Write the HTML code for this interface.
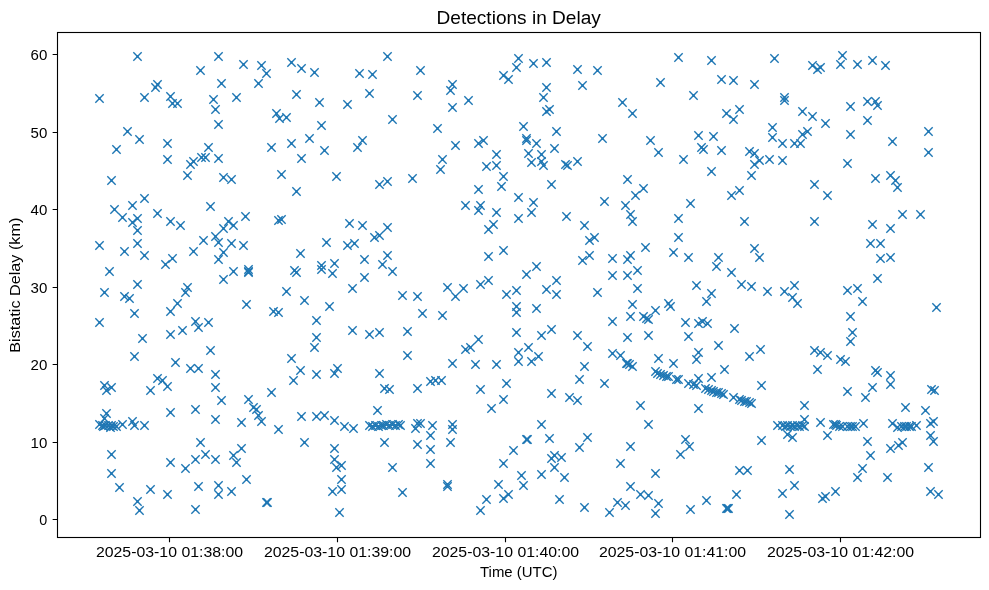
<!DOCTYPE html>
<html><head><meta charset="utf-8"><style>
html,body{margin:0;padding:0;background:#fff;width:989px;height:590px;overflow:hidden}
svg{display:block;will-change:transform}
text{font-family:"Liberation Sans", sans-serif;fill:#000}
</style></head><body>
<svg width="989" height="590" viewBox="0 0 989 590">
<rect width="989" height="590" fill="#fff"/>
<defs><g id="m"><path d="M-4.17 -4.17L4.17 4.17M-4.17 4.17L4.17 -4.17"/><path d="M0 -1.45L1.45 0L0 1.45L-1.45 0Z" fill="#1f77b4" stroke="none"/></g></defs>
<g fill="none" stroke="#1f77b4" stroke-width="1.39"><use href="#m" x="137.5" y="56.5"/><use href="#m" x="218.5" y="56.5"/><use href="#m" x="243.5" y="64.5"/><use href="#m" x="200.5" y="70.5"/><use href="#m" x="157.5" y="84.5"/><use href="#m" x="155.5" y="87.5"/><use href="#m" x="221.5" y="83.5"/><use href="#m" x="99.5" y="98.5"/><use href="#m" x="144.5" y="97.5"/><use href="#m" x="170.5" y="96.5"/><use href="#m" x="172.5" y="103.5"/><use href="#m" x="177.5" y="103.5"/><use href="#m" x="213.5" y="99.5"/><use href="#m" x="236.5" y="97.5"/><use href="#m" x="215.5" y="109.5"/><use href="#m" x="218.5" y="124.5"/><use href="#m" x="127.5" y="131.5"/><use href="#m" x="139.5" y="139.5"/><use href="#m" x="261.5" y="65.5"/><use href="#m" x="266.5" y="73.5"/><use href="#m" x="258.5" y="83.5"/><use href="#m" x="291.5" y="62.5"/><use href="#m" x="301.5" y="68.5"/><use href="#m" x="314.5" y="72.5"/><use href="#m" x="387.5" y="56.5"/><use href="#m" x="359.5" y="73.5"/><use href="#m" x="372.5" y="74.5"/><use href="#m" x="296.5" y="94.5"/><use href="#m" x="369.5" y="93.5"/><use href="#m" x="319.5" y="102.5"/><use href="#m" x="347.5" y="104.5"/><use href="#m" x="276.5" y="113.5"/><use href="#m" x="279.5" y="118.5"/><use href="#m" x="286.5" y="117.5"/><use href="#m" x="392.5" y="119.5"/><use href="#m" x="321.5" y="125.5"/><use href="#m" x="309.5" y="138.5"/><use href="#m" x="362.5" y="140.5"/><use href="#m" x="420.5" y="70.5"/><use href="#m" x="417.5" y="95.5"/><use href="#m" x="452.5" y="84.5"/><use href="#m" x="450.5" y="90.5"/><use href="#m" x="468.5" y="100.5"/><use href="#m" x="452.5" y="107.5"/><use href="#m" x="437.5" y="128.5"/><use href="#m" x="518.5" y="58.5"/><use href="#m" x="516.5" y="67.5"/><use href="#m" x="533.5" y="63.5"/><use href="#m" x="546.5" y="62.5"/><use href="#m" x="503.5" y="75.5"/><use href="#m" x="508.5" y="79.5"/><use href="#m" x="546.5" y="87.5"/><use href="#m" x="543.5" y="97.5"/><use href="#m" x="546.5" y="111.5"/><use href="#m" x="549.5" y="109.5"/><use href="#m" x="523.5" y="126.5"/><use href="#m" x="556.5" y="131.5"/><use href="#m" x="483.5" y="140.5"/><use href="#m" x="526.5" y="138.5"/><use href="#m" x="577.5" y="69.5"/><use href="#m" x="597.5" y="70.5"/><use href="#m" x="582.5" y="85.5"/><use href="#m" x="622.5" y="102.5"/><use href="#m" x="632.5" y="113.5"/><use href="#m" x="660.5" y="82.5"/><use href="#m" x="678.5" y="57.5"/><use href="#m" x="711.5" y="60.5"/><use href="#m" x="721.5" y="79.5"/><use href="#m" x="693.5" y="95.5"/><use href="#m" x="726.5" y="113.5"/><use href="#m" x="698.5" y="135.5"/><use href="#m" x="713.5" y="136.5"/><use href="#m" x="602.5" y="138.5"/><use href="#m" x="650.5" y="140.5"/><use href="#m" x="733.5" y="80.5"/><use href="#m" x="754.5" y="84.5"/><use href="#m" x="774.5" y="58.5"/><use href="#m" x="784.5" y="97.5"/><use href="#m" x="784.5" y="100.5"/><use href="#m" x="739.5" y="109.5"/><use href="#m" x="733.5" y="119.5"/><use href="#m" x="772.5" y="127.5"/><use href="#m" x="772.5" y="137.5"/><use href="#m" x="802.5" y="111.5"/><use href="#m" x="812.5" y="116.5"/><use href="#m" x="825.5" y="123.5"/><use href="#m" x="807.5" y="131.5"/><use href="#m" x="802.5" y="134.5"/><use href="#m" x="812.5" y="65.5"/><use href="#m" x="817.5" y="69.5"/><use href="#m" x="820.5" y="67.5"/><use href="#m" x="842.5" y="55.5"/><use href="#m" x="840.5" y="64.5"/><use href="#m" x="857.5" y="64.5"/><use href="#m" x="872.5" y="60.5"/><use href="#m" x="885.5" y="65.5"/><use href="#m" x="850.5" y="106.5"/><use href="#m" x="867.5" y="101.5"/><use href="#m" x="875.5" y="101.5"/><use href="#m" x="877.5" y="105.5"/><use href="#m" x="867.5" y="120.5"/><use href="#m" x="850.5" y="134.5"/><use href="#m" x="928.5" y="131.5"/><use href="#m" x="167.5" y="143.5"/><use href="#m" x="116.5" y="149.5"/><use href="#m" x="208.5" y="147.5"/><use href="#m" x="167.5" y="159.5"/><use href="#m" x="187.5" y="175.5"/><use href="#m" x="190.5" y="164.5"/><use href="#m" x="193.5" y="161.5"/><use href="#m" x="201.5" y="157.5"/><use href="#m" x="205.5" y="157.5"/><use href="#m" x="218.5" y="158.5"/><use href="#m" x="111.5" y="180.5"/><use href="#m" x="223.5" y="177.5"/><use href="#m" x="231.5" y="179.5"/><use href="#m" x="144.5" y="198.5"/><use href="#m" x="132.5" y="205.5"/><use href="#m" x="114.5" y="209.5"/><use href="#m" x="122.5" y="217.5"/><use href="#m" x="132.5" y="222.5"/><use href="#m" x="137.5" y="218.5"/><use href="#m" x="137.5" y="230.5"/><use href="#m" x="157.5" y="213.5"/><use href="#m" x="170.5" y="221.5"/><use href="#m" x="180.5" y="225.5"/><use href="#m" x="210.5" y="206.5"/><use href="#m" x="228.5" y="221.5"/><use href="#m" x="233.5" y="225.5"/><use href="#m" x="223.5" y="228.5"/><use href="#m" x="245.5" y="216.5"/><use href="#m" x="291.5" y="143.5"/><use href="#m" x="271.5" y="147.5"/><use href="#m" x="324.5" y="150.5"/><use href="#m" x="357.5" y="147.5"/><use href="#m" x="301.5" y="158.5"/><use href="#m" x="281.5" y="174.5"/><use href="#m" x="336.5" y="176.5"/><use href="#m" x="296.5" y="191.5"/><use href="#m" x="379.5" y="184.5"/><use href="#m" x="387.5" y="181.5"/><use href="#m" x="278.5" y="220.5"/><use href="#m" x="281.5" y="219.5"/><use href="#m" x="349.5" y="223.5"/><use href="#m" x="362.5" y="225.5"/><use href="#m" x="387.5" y="227.5"/><use href="#m" x="379.5" y="235.5"/><use href="#m" x="455.5" y="145.5"/><use href="#m" x="478.5" y="143.5"/><use href="#m" x="496.5" y="154.5"/><use href="#m" x="442.5" y="159.5"/><use href="#m" x="440.5" y="169.5"/><use href="#m" x="412.5" y="178.5"/><use href="#m" x="486.5" y="166.5"/><use href="#m" x="496.5" y="165.5"/><use href="#m" x="503.5" y="176.5"/><use href="#m" x="501.5" y="186.5"/><use href="#m" x="478.5" y="189.5"/><use href="#m" x="465.5" y="205.5"/><use href="#m" x="480.5" y="205.5"/><use href="#m" x="478.5" y="210.5"/><use href="#m" x="496.5" y="212.5"/><use href="#m" x="493.5" y="224.5"/><use href="#m" x="488.5" y="229.5"/><use href="#m" x="518.5" y="197.5"/><use href="#m" x="533.5" y="202.5"/><use href="#m" x="531.5" y="212.5"/><use href="#m" x="518.5" y="218.5"/><use href="#m" x="551.5" y="184.5"/><use href="#m" x="566.5" y="216.5"/><use href="#m" x="526.5" y="140.5"/><use href="#m" x="536.5" y="143.5"/><use href="#m" x="554.5" y="148.5"/><use href="#m" x="528.5" y="153.5"/><use href="#m" x="541.5" y="154.5"/><use href="#m" x="541.5" y="161.5"/><use href="#m" x="531.5" y="162.5"/><use href="#m" x="543.5" y="165.5"/><use href="#m" x="565.5" y="164.5"/><use href="#m" x="567.5" y="165.5"/><use href="#m" x="577.5" y="161.5"/><use href="#m" x="658.5" y="152.5"/><use href="#m" x="683.5" y="159.5"/><use href="#m" x="701.5" y="147.5"/><use href="#m" x="703.5" y="149.5"/><use href="#m" x="721.5" y="150.5"/><use href="#m" x="711.5" y="171.5"/><use href="#m" x="627.5" y="179.5"/><use href="#m" x="643.5" y="188.5"/><use href="#m" x="635.5" y="195.5"/><use href="#m" x="604.5" y="201.5"/><use href="#m" x="625.5" y="205.5"/><use href="#m" x="630.5" y="214.5"/><use href="#m" x="632.5" y="221.5"/><use href="#m" x="690.5" y="203.5"/><use href="#m" x="678.5" y="218.5"/><use href="#m" x="584.5" y="225.5"/><use href="#m" x="782.5" y="143.5"/><use href="#m" x="794.5" y="143.5"/><use href="#m" x="800.5" y="143.5"/><use href="#m" x="749.5" y="151.5"/><use href="#m" x="754.5" y="153.5"/><use href="#m" x="759.5" y="160.5"/><use href="#m" x="754.5" y="164.5"/><use href="#m" x="769.5" y="159.5"/><use href="#m" x="782.5" y="160.5"/><use href="#m" x="751.5" y="175.5"/><use href="#m" x="739.5" y="190.5"/><use href="#m" x="731.5" y="195.5"/><use href="#m" x="814.5" y="184.5"/><use href="#m" x="827.5" y="195.5"/><use href="#m" x="847.5" y="163.5"/><use href="#m" x="875.5" y="178.5"/><use href="#m" x="744.5" y="221.5"/><use href="#m" x="814.5" y="221.5"/><use href="#m" x="872.5" y="224.5"/><use href="#m" x="892.5" y="141.5"/><use href="#m" x="928.5" y="152.5"/><use href="#m" x="890.5" y="175.5"/><use href="#m" x="895.5" y="180.5"/><use href="#m" x="897.5" y="187.5"/><use href="#m" x="902.5" y="214.5"/><use href="#m" x="920.5" y="214.5"/><use href="#m" x="890.5" y="228.5"/><use href="#m" x="99.5" y="245.5"/><use href="#m" x="124.5" y="251.5"/><use href="#m" x="137.5" y="243.5"/><use href="#m" x="144.5" y="255.5"/><use href="#m" x="203.5" y="240.5"/><use href="#m" x="193.5" y="251.5"/><use href="#m" x="172.5" y="258.5"/><use href="#m" x="165.5" y="264.5"/><use href="#m" x="218.5" y="242.5"/><use href="#m" x="231.5" y="243.5"/><use href="#m" x="243.5" y="245.5"/><use href="#m" x="223.5" y="252.5"/><use href="#m" x="218.5" y="259.5"/><use href="#m" x="109.5" y="271.5"/><use href="#m" x="233.5" y="271.5"/><use href="#m" x="223.5" y="279.5"/><use href="#m" x="137.5" y="284.5"/><use href="#m" x="104.5" y="292.5"/><use href="#m" x="124.5" y="296.5"/><use href="#m" x="129.5" y="298.5"/><use href="#m" x="187.5" y="287.5"/><use href="#m" x="185.5" y="292.5"/><use href="#m" x="177.5" y="303.5"/><use href="#m" x="170.5" y="311.5"/><use href="#m" x="134.5" y="313.5"/><use href="#m" x="99.5" y="322.5"/><use href="#m" x="195.5" y="321.5"/><use href="#m" x="198.5" y="327.5"/><use href="#m" x="208.5" y="322.5"/><use href="#m" x="182.5" y="330.5"/><use href="#m" x="246.5" y="304.5"/><use href="#m" x="215.5" y="236.5"/><use href="#m" x="326.5" y="242.5"/><use href="#m" x="347.5" y="245.5"/><use href="#m" x="354.5" y="243.5"/><use href="#m" x="374.5" y="237.5"/><use href="#m" x="300.5" y="253.5"/><use href="#m" x="294.5" y="270.5"/><use href="#m" x="296.5" y="272.5"/><use href="#m" x="321.5" y="265.5"/><use href="#m" x="321.5" y="269.5"/><use href="#m" x="334.5" y="263.5"/><use href="#m" x="332.5" y="273.5"/><use href="#m" x="364.5" y="259.5"/><use href="#m" x="387.5" y="255.5"/><use href="#m" x="382.5" y="264.5"/><use href="#m" x="392.5" y="271.5"/><use href="#m" x="364.5" y="277.5"/><use href="#m" x="352.5" y="288.5"/><use href="#m" x="286.5" y="291.5"/><use href="#m" x="304.5" y="300.5"/><use href="#m" x="329.5" y="306.5"/><use href="#m" x="402.5" y="295.5"/><use href="#m" x="273.5" y="311.5"/><use href="#m" x="278.5" y="312.5"/><use href="#m" x="316.5" y="320.5"/><use href="#m" x="352.5" y="330.5"/><use href="#m" x="379.5" y="332.5"/><use href="#m" x="248.5" y="269.5"/><use href="#m" x="248.5" y="271.5"/><use href="#m" x="248.5" y="272.5"/><use href="#m" x="488.5" y="256.5"/><use href="#m" x="503.5" y="250.5"/><use href="#m" x="536.5" y="266.5"/><use href="#m" x="526.5" y="274.5"/><use href="#m" x="556.5" y="280.5"/><use href="#m" x="546.5" y="289.5"/><use href="#m" x="556.5" y="294.5"/><use href="#m" x="488.5" y="280.5"/><use href="#m" x="480.5" y="284.5"/><use href="#m" x="447.5" y="287.5"/><use href="#m" x="455.5" y="296.5"/><use href="#m" x="463.5" y="288.5"/><use href="#m" x="417.5" y="296.5"/><use href="#m" x="422.5" y="313.5"/><use href="#m" x="442.5" y="315.5"/><use href="#m" x="506.5" y="294.5"/><use href="#m" x="516.5" y="290.5"/><use href="#m" x="516.5" y="306.5"/><use href="#m" x="516.5" y="312.5"/><use href="#m" x="536.5" y="308.5"/><use href="#m" x="551.5" y="329.5"/><use href="#m" x="407.5" y="331.5"/><use href="#m" x="594.5" y="237.5"/><use href="#m" x="678.5" y="237.5"/><use href="#m" x="645.5" y="247.5"/><use href="#m" x="673.5" y="252.5"/><use href="#m" x="688.5" y="257.5"/><use href="#m" x="718.5" y="257.5"/><use href="#m" x="716.5" y="266.5"/><use href="#m" x="582.5" y="260.5"/><use href="#m" x="589.5" y="255.5"/><use href="#m" x="589.5" y="240.5"/><use href="#m" x="612.5" y="258.5"/><use href="#m" x="630.5" y="255.5"/><use href="#m" x="627.5" y="259.5"/><use href="#m" x="612.5" y="275.5"/><use href="#m" x="627.5" y="275.5"/><use href="#m" x="637.5" y="270.5"/><use href="#m" x="597.5" y="292.5"/><use href="#m" x="637.5" y="288.5"/><use href="#m" x="696.5" y="285.5"/><use href="#m" x="711.5" y="293.5"/><use href="#m" x="706.5" y="301.5"/><use href="#m" x="632.5" y="304.5"/><use href="#m" x="655.5" y="310.5"/><use href="#m" x="668.5" y="303.5"/><use href="#m" x="670.5" y="306.5"/><use href="#m" x="630.5" y="316.5"/><use href="#m" x="643.5" y="316.5"/><use href="#m" x="646.5" y="318.5"/><use href="#m" x="648.5" y="319.5"/><use href="#m" x="685.5" y="322.5"/><use href="#m" x="698.5" y="323.5"/><use href="#m" x="702.5" y="321.5"/><use href="#m" x="707.5" y="323.5"/><use href="#m" x="612.5" y="321.5"/><use href="#m" x="754.5" y="248.5"/><use href="#m" x="759.5" y="257.5"/><use href="#m" x="731.5" y="272.5"/><use href="#m" x="741.5" y="284.5"/><use href="#m" x="751.5" y="286.5"/><use href="#m" x="767.5" y="291.5"/><use href="#m" x="784.5" y="291.5"/><use href="#m" x="794.5" y="285.5"/><use href="#m" x="792.5" y="297.5"/><use href="#m" x="797.5" y="303.5"/><use href="#m" x="847.5" y="290.5"/><use href="#m" x="857.5" y="288.5"/><use href="#m" x="862.5" y="301.5"/><use href="#m" x="850.5" y="316.5"/><use href="#m" x="734.5" y="328.5"/><use href="#m" x="870.5" y="243.5"/><use href="#m" x="880.5" y="243.5"/><use href="#m" x="880.5" y="258.5"/><use href="#m" x="877.5" y="278.5"/><use href="#m" x="890.5" y="257.5"/><use href="#m" x="936.5" y="307.5"/><use href="#m" x="170.5" y="334.5"/><use href="#m" x="142.5" y="338.5"/><use href="#m" x="134.5" y="356.5"/><use href="#m" x="210.5" y="350.5"/><use href="#m" x="175.5" y="362.5"/><use href="#m" x="190.5" y="368.5"/><use href="#m" x="198.5" y="368.5"/><use href="#m" x="215.5" y="374.5"/><use href="#m" x="215.5" y="387.5"/><use href="#m" x="221.5" y="400.5"/><use href="#m" x="157.5" y="378.5"/><use href="#m" x="162.5" y="380.5"/><use href="#m" x="167.5" y="386.5"/><use href="#m" x="150.5" y="390.5"/><use href="#m" x="104.5" y="385.5"/><use href="#m" x="111.5" y="387.5"/><use href="#m" x="106.5" y="390.5"/><use href="#m" x="170.5" y="412.5"/><use href="#m" x="195.5" y="409.5"/><use href="#m" x="215.5" y="419.5"/><use href="#m" x="241.5" y="422.5"/><use href="#m" x="122.5" y="424.5"/><use href="#m" x="132.5" y="421.5"/><use href="#m" x="134.5" y="425.5"/><use href="#m" x="144.5" y="425.5"/><use href="#m" x="106.5" y="413.5"/><use href="#m" x="104.5" y="418.5"/><use href="#m" x="99.5" y="424.5"/><use href="#m" x="102.5" y="425.5"/><use href="#m" x="105.5" y="425.5"/><use href="#m" x="108.5" y="425.5"/><use href="#m" x="111.5" y="425.5"/><use href="#m" x="113.5" y="426.5"/><use href="#m" x="116.5" y="426.5"/><use href="#m" x="316.5" y="337.5"/><use href="#m" x="369.5" y="334.5"/><use href="#m" x="314.5" y="347.5"/><use href="#m" x="291.5" y="358.5"/><use href="#m" x="300.5" y="370.5"/><use href="#m" x="293.5" y="380.5"/><use href="#m" x="316.5" y="374.5"/><use href="#m" x="334.5" y="373.5"/><use href="#m" x="337.5" y="368.5"/><use href="#m" x="379.5" y="373.5"/><use href="#m" x="384.5" y="388.5"/><use href="#m" x="389.5" y="389.5"/><use href="#m" x="271.5" y="392.5"/><use href="#m" x="377.5" y="410.5"/><use href="#m" x="248.5" y="399.5"/><use href="#m" x="253.5" y="407.5"/><use href="#m" x="256.5" y="409.5"/><use href="#m" x="258.5" y="415.5"/><use href="#m" x="261.5" y="421.5"/><use href="#m" x="278.5" y="429.5"/><use href="#m" x="301.5" y="416.5"/><use href="#m" x="316.5" y="416.5"/><use href="#m" x="324.5" y="415.5"/><use href="#m" x="334.5" y="420.5"/><use href="#m" x="344.5" y="426.5"/><use href="#m" x="353.5" y="428.5"/><use href="#m" x="369.5" y="425.5"/><use href="#m" x="372.5" y="426.5"/><use href="#m" x="375.5" y="425.5"/><use href="#m" x="378.5" y="426.5"/><use href="#m" x="381.5" y="425.5"/><use href="#m" x="383.5" y="425.5"/><use href="#m" x="386.5" y="424.5"/><use href="#m" x="389.5" y="425.5"/><use href="#m" x="392.5" y="424.5"/><use href="#m" x="395.5" y="425.5"/><use href="#m" x="398.5" y="424.5"/><use href="#m" x="400.5" y="425.5"/><use href="#m" x="478.5" y="339.5"/><use href="#m" x="465.5" y="349.5"/><use href="#m" x="470.5" y="347.5"/><use href="#m" x="452.5" y="363.5"/><use href="#m" x="475.5" y="364.5"/><use href="#m" x="496.5" y="364.5"/><use href="#m" x="430.5" y="381.5"/><use href="#m" x="435.5" y="380.5"/><use href="#m" x="441.5" y="380.5"/><use href="#m" x="417.5" y="388.5"/><use href="#m" x="480.5" y="389.5"/><use href="#m" x="506.5" y="383.5"/><use href="#m" x="503.5" y="399.5"/><use href="#m" x="491.5" y="408.5"/><use href="#m" x="551.5" y="393.5"/><use href="#m" x="541.5" y="424.5"/><use href="#m" x="516.5" y="332.5"/><use href="#m" x="541.5" y="335.5"/><use href="#m" x="518.5" y="352.5"/><use href="#m" x="518.5" y="361.5"/><use href="#m" x="528.5" y="347.5"/><use href="#m" x="531.5" y="361.5"/><use href="#m" x="538.5" y="356.5"/><use href="#m" x="407.5" y="355.5"/><use href="#m" x="417.5" y="423.5"/><use href="#m" x="420.5" y="423.5"/><use href="#m" x="415.5" y="428.5"/><use href="#m" x="432.5" y="425.5"/><use href="#m" x="452.5" y="424.5"/><use href="#m" x="452.5" y="429.5"/><use href="#m" x="577.5" y="335.5"/><use href="#m" x="627.5" y="337.5"/><use href="#m" x="648.5" y="335.5"/><use href="#m" x="688.5" y="336.5"/><use href="#m" x="587.5" y="346.5"/><use href="#m" x="584.5" y="366.5"/><use href="#m" x="579.5" y="379.5"/><use href="#m" x="604.5" y="383.5"/><use href="#m" x="577.5" y="400.5"/><use href="#m" x="640.5" y="405.5"/><use href="#m" x="648.5" y="424.5"/><use href="#m" x="658.5" y="358.5"/><use href="#m" x="673.5" y="363.5"/><use href="#m" x="698.5" y="352.5"/><use href="#m" x="696.5" y="359.5"/><use href="#m" x="718.5" y="345.5"/><use href="#m" x="698.5" y="408.5"/><use href="#m" x="569.5" y="397.5"/><use href="#m" x="612.5" y="353.5"/><use href="#m" x="620.5" y="355.5"/><use href="#m" x="626.5" y="363.5"/><use href="#m" x="627.5" y="363.5"/><use href="#m" x="629.5" y="364.5"/><use href="#m" x="632.5" y="366.5"/><use href="#m" x="655.5" y="371.5"/><use href="#m" x="657.5" y="373.5"/><use href="#m" x="660.5" y="374.5"/><use href="#m" x="663.5" y="375.5"/><use href="#m" x="666.5" y="376.5"/><use href="#m" x="668.5" y="376.5"/><use href="#m" x="676.5" y="379.5"/><use href="#m" x="678.5" y="379.5"/><use href="#m" x="688.5" y="383.5"/><use href="#m" x="693.5" y="384.5"/><use href="#m" x="696.5" y="385.5"/><use href="#m" x="733.5" y="397.5"/><use href="#m" x="698.5" y="378.5"/><use href="#m" x="711.5" y="377.5"/><use href="#m" x="724.5" y="369.5"/><use href="#m" x="705.5" y="388.5"/><use href="#m" x="708.5" y="389.5"/><use href="#m" x="711.5" y="390.5"/><use href="#m" x="713.5" y="391.5"/><use href="#m" x="716.5" y="392.5"/><use href="#m" x="718.5" y="392.5"/><use href="#m" x="721.5" y="393.5"/><use href="#m" x="723.5" y="394.5"/><use href="#m" x="739.5" y="399.5"/><use href="#m" x="741.5" y="400.5"/><use href="#m" x="744.5" y="401.5"/><use href="#m" x="746.5" y="401.5"/><use href="#m" x="749.5" y="402.5"/><use href="#m" x="751.5" y="403.5"/><use href="#m" x="850.5" y="341.5"/><use href="#m" x="760.5" y="349.5"/><use href="#m" x="749.5" y="356.5"/><use href="#m" x="814.5" y="350.5"/><use href="#m" x="820.5" y="352.5"/><use href="#m" x="827.5" y="355.5"/><use href="#m" x="840.5" y="359.5"/><use href="#m" x="845.5" y="361.5"/><use href="#m" x="817.5" y="369.5"/><use href="#m" x="875.5" y="370.5"/><use href="#m" x="877.5" y="372.5"/><use href="#m" x="761.5" y="385.5"/><use href="#m" x="847.5" y="391.5"/><use href="#m" x="872.5" y="387.5"/><use href="#m" x="865.5" y="397.5"/><use href="#m" x="804.5" y="405.5"/><use href="#m" x="852.5" y="332.5"/><use href="#m" x="804.5" y="419.5"/><use href="#m" x="820.5" y="422.5"/><use href="#m" x="833.5" y="424.5"/><use href="#m" x="835.5" y="424.5"/><use href="#m" x="836.5" y="425.5"/><use href="#m" x="839.5" y="426.5"/><use href="#m" x="842.5" y="426.5"/><use href="#m" x="847.5" y="426.5"/><use href="#m" x="850.5" y="426.5"/><use href="#m" x="852.5" y="426.5"/><use href="#m" x="855.5" y="426.5"/><use href="#m" x="863.5" y="423.5"/><use href="#m" x="777.5" y="425.5"/><use href="#m" x="782.5" y="425.5"/><use href="#m" x="785.5" y="426.5"/><use href="#m" x="787.5" y="425.5"/><use href="#m" x="790.5" y="426.5"/><use href="#m" x="792.5" y="425.5"/><use href="#m" x="794.5" y="426.5"/><use href="#m" x="797.5" y="425.5"/><use href="#m" x="799.5" y="426.5"/><use href="#m" x="802.5" y="425.5"/><use href="#m" x="804.5" y="426.5"/><use href="#m" x="890.5" y="375.5"/><use href="#m" x="890.5" y="384.5"/><use href="#m" x="905.5" y="407.5"/><use href="#m" x="925.5" y="410.5"/><use href="#m" x="931.5" y="389.5"/><use href="#m" x="934.5" y="390.5"/><use href="#m" x="892.5" y="423.5"/><use href="#m" x="897.5" y="427.5"/><use href="#m" x="901.5" y="426.5"/><use href="#m" x="904.5" y="426.5"/><use href="#m" x="906.5" y="426.5"/><use href="#m" x="909.5" y="426.5"/><use href="#m" x="911.5" y="426.5"/><use href="#m" x="916.5" y="425.5"/><use href="#m" x="930.5" y="423.5"/><use href="#m" x="933.5" y="421.5"/><use href="#m" x="111.5" y="454.5"/><use href="#m" x="111.5" y="473.5"/><use href="#m" x="119.5" y="487.5"/><use href="#m" x="137.5" y="501.5"/><use href="#m" x="139.5" y="510.5"/><use href="#m" x="150.5" y="489.5"/><use href="#m" x="167.5" y="494.5"/><use href="#m" x="170.5" y="462.5"/><use href="#m" x="185.5" y="468.5"/><use href="#m" x="195.5" y="459.5"/><use href="#m" x="200.5" y="442.5"/><use href="#m" x="205.5" y="454.5"/><use href="#m" x="215.5" y="459.5"/><use href="#m" x="233.5" y="455.5"/><use href="#m" x="236.5" y="462.5"/><use href="#m" x="241.5" y="448.5"/><use href="#m" x="246.5" y="479.5"/><use href="#m" x="198.5" y="486.5"/><use href="#m" x="218.5" y="485.5"/><use href="#m" x="218.5" y="494.5"/><use href="#m" x="231.5" y="491.5"/><use href="#m" x="195.5" y="509.5"/><use href="#m" x="304.5" y="442.5"/><use href="#m" x="334.5" y="448.5"/><use href="#m" x="334.5" y="459.5"/><use href="#m" x="336.5" y="467.5"/><use href="#m" x="341.5" y="465.5"/><use href="#m" x="341.5" y="479.5"/><use href="#m" x="332.5" y="491.5"/><use href="#m" x="341.5" y="489.5"/><use href="#m" x="339.5" y="512.5"/><use href="#m" x="384.5" y="442.5"/><use href="#m" x="392.5" y="467.5"/><use href="#m" x="402.5" y="492.5"/><use href="#m" x="430.5" y="435.5"/><use href="#m" x="417.5" y="444.5"/><use href="#m" x="430.5" y="449.5"/><use href="#m" x="430.5" y="463.5"/><use href="#m" x="450.5" y="442.5"/><use href="#m" x="480.5" y="510.5"/><use href="#m" x="486.5" y="499.5"/><use href="#m" x="498.5" y="484.5"/><use href="#m" x="503.5" y="498.5"/><use href="#m" x="508.5" y="494.5"/><use href="#m" x="503.5" y="463.5"/><use href="#m" x="513.5" y="450.5"/><use href="#m" x="521.5" y="475.5"/><use href="#m" x="523.5" y="485.5"/><use href="#m" x="541.5" y="474.5"/><use href="#m" x="549.5" y="438.5"/><use href="#m" x="551.5" y="458.5"/><use href="#m" x="554.5" y="455.5"/><use href="#m" x="561.5" y="457.5"/><use href="#m" x="554.5" y="467.5"/><use href="#m" x="564.5" y="477.5"/><use href="#m" x="559.5" y="499.5"/><use href="#m" x="447.5" y="484.5"/><use href="#m" x="447.5" y="486.5"/><use href="#m" x="587.5" y="437.5"/><use href="#m" x="579.5" y="447.5"/><use href="#m" x="630.5" y="446.5"/><use href="#m" x="620.5" y="463.5"/><use href="#m" x="655.5" y="473.5"/><use href="#m" x="630.5" y="486.5"/><use href="#m" x="640.5" y="494.5"/><use href="#m" x="648.5" y="495.5"/><use href="#m" x="658.5" y="503.5"/><use href="#m" x="655.5" y="513.5"/><use href="#m" x="617.5" y="502.5"/><use href="#m" x="625.5" y="505.5"/><use href="#m" x="609.5" y="512.5"/><use href="#m" x="584.5" y="507.5"/><use href="#m" x="685.5" y="439.5"/><use href="#m" x="689.5" y="446.5"/><use href="#m" x="680.5" y="454.5"/><use href="#m" x="706.5" y="500.5"/><use href="#m" x="690.5" y="509.5"/><use href="#m" x="761.5" y="440.5"/><use href="#m" x="787.5" y="434.5"/><use href="#m" x="792.5" y="437.5"/><use href="#m" x="827.5" y="435.5"/><use href="#m" x="867.5" y="441.5"/><use href="#m" x="870.5" y="455.5"/><use href="#m" x="862.5" y="468.5"/><use href="#m" x="857.5" y="477.5"/><use href="#m" x="739.5" y="470.5"/><use href="#m" x="747.5" y="470.5"/><use href="#m" x="789.5" y="469.5"/><use href="#m" x="794.5" y="485.5"/><use href="#m" x="782.5" y="493.5"/><use href="#m" x="736.5" y="494.5"/><use href="#m" x="822.5" y="498.5"/><use href="#m" x="825.5" y="496.5"/><use href="#m" x="835.5" y="491.5"/><use href="#m" x="789.5" y="514.5"/><use href="#m" x="726.5" y="508.5"/><use href="#m" x="727.5" y="508.5"/><use href="#m" x="728.5" y="508.5"/><use href="#m" x="890.5" y="448.5"/><use href="#m" x="898.5" y="445.5"/><use href="#m" x="902.5" y="442.5"/><use href="#m" x="887.5" y="477.5"/><use href="#m" x="930.5" y="435.5"/><use href="#m" x="933.5" y="441.5"/><use href="#m" x="928.5" y="467.5"/><use href="#m" x="930.5" y="491.5"/><use href="#m" x="938.5" y="494.5"/><use href="#m" x="266.5" y="502.5"/><use href="#m" x="267.5" y="502.5"/><use href="#m" x="526.5" y="439.5"/><use href="#m" x="527.5" y="439.5"/><use href="#m" x="103.5" y="426.5"/><use href="#m" x="110.5" y="427.5"/></g>
<rect x="57.5" y="32.5" width="923.0" height="505.0" fill="none" stroke="#000" stroke-width="1.11"/>
<path d="M52.64 519.50H57.50M52.64 442.50H57.50M52.64 364.50H57.50M52.64 287.50H57.50M52.64 209.50H57.50M52.64 132.50H57.50M52.64 54.50H57.50M169.50 537.50V542.36M337.50 537.50V542.36M505.50 537.50V542.36M672.50 537.50V542.36M840.50 537.50V542.36" stroke="#000" stroke-width="1.11" fill="none"/>
<g font-size="14.7">
<text x="47.30" y="524.50" text-anchor="end" textLength="7.98" lengthAdjust="spacingAndGlyphs">0</text><text x="47.30" y="447.50" text-anchor="end" textLength="16.76" lengthAdjust="spacingAndGlyphs">10</text><text x="47.30" y="369.50" text-anchor="end" textLength="16.76" lengthAdjust="spacingAndGlyphs">20</text><text x="47.30" y="292.50" text-anchor="end" textLength="16.76" lengthAdjust="spacingAndGlyphs">30</text><text x="47.30" y="214.50" text-anchor="end" textLength="16.76" lengthAdjust="spacingAndGlyphs">40</text><text x="47.30" y="137.50" text-anchor="end" textLength="16.76" lengthAdjust="spacingAndGlyphs">50</text><text x="47.30" y="59.50" text-anchor="end" textLength="16.76" lengthAdjust="spacingAndGlyphs">60</text>
<text x="169.50" y="556.9" text-anchor="middle" textLength="147.2" lengthAdjust="spacingAndGlyphs">2025-03-10 01:38:00</text><text x="337.50" y="556.9" text-anchor="middle" textLength="147.2" lengthAdjust="spacingAndGlyphs">2025-03-10 01:39:00</text><text x="505.50" y="556.9" text-anchor="middle" textLength="147.2" lengthAdjust="spacingAndGlyphs">2025-03-10 01:40:00</text><text x="672.50" y="556.9" text-anchor="middle" textLength="147.2" lengthAdjust="spacingAndGlyphs">2025-03-10 01:41:00</text><text x="840.50" y="556.9" text-anchor="middle" textLength="147.2" lengthAdjust="spacingAndGlyphs">2025-03-10 01:42:00</text>
<text x="518.7" y="576.8" text-anchor="middle" textLength="77.4" lengthAdjust="spacingAndGlyphs">Time (UTC)</text>
<text transform="translate(20.0 285.2) rotate(-90)" x="0" y="0" text-anchor="middle" textLength="135.0" lengthAdjust="spacingAndGlyphs">Bistatic Delay (km)</text>
</g>
<text x="518.7" y="23.9" text-anchor="middle" font-size="17.66" textLength="164.3" lengthAdjust="spacingAndGlyphs">Detections in Delay</text>
</svg>
</body></html>
